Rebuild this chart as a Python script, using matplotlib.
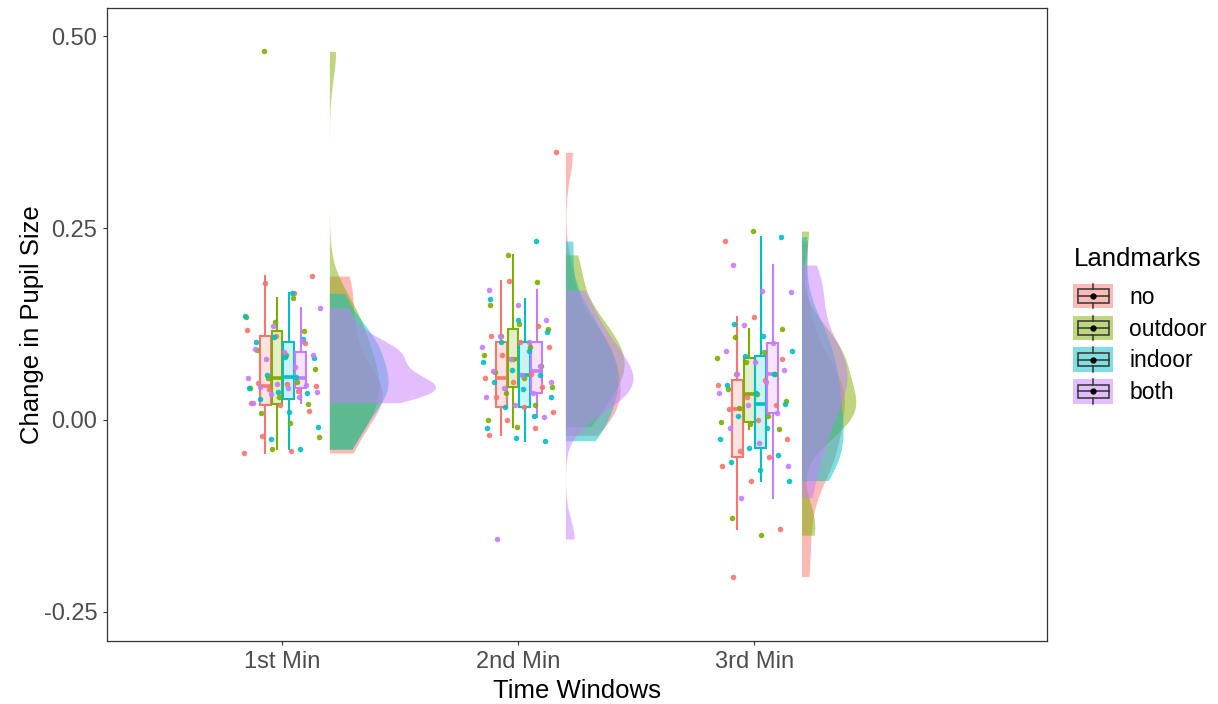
import numpy as np
import matplotlib
matplotlib.use('Agg')
import matplotlib.pyplot as plt
from matplotlib.colors import to_rgba
from matplotlib.patches import Patch, Rectangle
from matplotlib.lines import Line2D
from matplotlib.legend_handler import HandlerBase

plt.rcParams['font.family'] = ['Liberation Sans', 'DejaVu Sans']

windows = ['1st Min', '2nd Min', '3rd Min']
landmarks = ['no', 'outdoor', 'indoor', 'both']
colors = ['#F8766D', '#7CAE00', '#00BFC4', '#C77CFF']

# change in pupil size per participant
no_1 = [-0.043, -0.040, -0.021, 0.012, 0.0195, 0.0225, 0.038, 0.040, 0.044,
        0.047, 0.0486, 0.100, 0.110, 0.117, 0.166, 0.179, 0.1875]
outdoor_1 = [-0.038, -0.022, -0.0035, 0.0095, 0.021, 0.030, 0.0417, 0.050, 0.055,
             0.066, 0.084, 0.091, 0.116, 0.128, 0.134, 0.159, 0.480]
indoor_1 = [-0.038, -0.025, -0.0087, 0.011, 0.027, 0.035, 0.037, 0.042, 0.056,
            0.0585, 0.081, 0.082, 0.1016, 0.106, 0.108, 0.135, 0.165]
both_1 = [0.0225, 0.030, 0.034, 0.037, 0.042, 0.043, 0.045, 0.047, 0.055,
          0.069, 0.080, 0.085, 0.0885, 0.092, 0.103, 0.122, 0.146]

no_2 = [-0.020, -0.010, 0.000, 0.010, 0.0174, 0.030, 0.043, 0.050, 0.055,
        0.060, 0.085, 0.095, 0.1016, 0.110, 0.122, 0.181, 0.3485]
outdoor_2 = [-0.0087, 0.000, 0.020, 0.035, 0.0434, 0.055, 0.062, 0.070, 0.080,
             0.085, 0.095, 0.110, 0.119, 0.125, 0.150, 0.180, 0.215]
indoor_2 = [-0.027, -0.0236, -0.010, 0.005, 0.017, 0.030, 0.040, 0.050, 0.0586,
            0.065, 0.075, 0.090, 0.1016, 0.115, 0.130, 0.1576, 0.233]
both_2 = [-0.155, 0.0043, 0.020, 0.030, 0.035, 0.042, 0.050, 0.058, 0.0638,
          0.070, 0.080, 0.095, 0.102, 0.110, 0.130, 0.150, 0.169]

no_3 = [-0.204, -0.142, -0.080, -0.060, -0.0486, -0.040, -0.025, 0.000, 0.0143,
        0.020, 0.030, 0.045, 0.052, 0.060, 0.080, 0.134, 0.233]
outdoor_3 = [-0.150, -0.128, -0.0117, -0.005, -0.002, 0.005, 0.015, 0.025, 0.034,
             0.040, 0.060, 0.075, 0.081, 0.088, 0.1077, 0.118, 0.246]
indoor_3 = [-0.079, -0.065, -0.055, -0.045, -0.036, -0.025, -0.010, 0.005, 0.0208,
            0.035, 0.045, 0.060, 0.083, 0.090, 0.110, 0.125, 0.2387]
both_3 = [-0.101, -0.060, -0.030, -0.010, 0.0096, 0.020, 0.035, 0.050, 0.060,
          0.065, 0.075, 0.090, 0.0998, 0.124, 0.167, 0.168, 0.2018]

pupil = [[no_1, outdoor_1, indoor_1, both_1],
         [no_2, outdoor_2, indoor_2, both_2],
         [no_3, outdoor_3, indoor_3, both_3]]


def kde(vals, n=512):
    # gaussian kernel, bw.nrd0, trimmed to the data range (like ggplot)
    v = np.asarray(vals)
    iqr = np.subtract(*np.percentile(v, [75, 25]))
    lo = min(v.std(ddof=1), iqr / 1.34)
    bw = 0.9 * lo * len(v) ** -0.2
    grid = np.linspace(v.min(), v.max(), n)
    z = (grid[:, None] - v[None, :]) / bw
    dens = np.exp(-0.5 * z ** 2).sum(axis=1) / (len(v) * bw * np.sqrt(2 * np.pi))
    return grid, dens


class BoxKey(HandlerBase):
    def create_artists(self, legend, orig_handle, xdescent, ydescent,
                       width, height, fontsize, trans):
        c = orig_handle.get_facecolor()
        x0, y0 = -xdescent, -ydescent
        bg = Rectangle((x0, y0), width, height, facecolor=c[:3], alpha=0.5,
                       edgecolor='none', transform=trans)
        box = Rectangle((x0 + 0.12 * width, y0 + 0.22 * height), 0.76 * width,
                        0.56 * height, fill=False, edgecolor='#333333', lw=1.1,
                        transform=trans)
        xm, ym = x0 + width / 2, y0 + height / 2
        med = Line2D([x0 + 0.12 * width, x0 + 0.88 * width], [ym, ym],
                     color='#333333', lw=1.1, transform=trans)
        wk1 = Line2D([xm, xm], [y0, y0 + 0.22 * height], color='#333333', lw=1.1, transform=trans)
        wk2 = Line2D([xm, xm], [y0 + 0.78 * height, y0 + height], color='#333333', lw=1.1, transform=trans)
        dot = Line2D([xm], [ym], marker='o', ms=3.5, color='black', transform=trans)
        return [bg, box, med, wk1, wk2, dot]


fig = plt.figure(figsize=(12.18, 7.04), dpi=100)
ax = fig.add_axes([107 / 1218, 63 / 704, 940 / 1218, 633 / 704])

dodge = [-0.072, -0.022, 0.028, 0.078]
all_d = [kde(v)[1].max() for row in pupil for v in row]
scale = 0.45 / max(all_d)

for i, w in enumerate(windows):
    xc = i + 1
    for j, lab in enumerate(landmarks):
        vals = np.array(pupil[i][j])
        grid, dens = kde(vals)
        ax.fill_betweenx(grid, xc + 0.2, xc + 0.2 + dens * scale,
                         color=colors[j], alpha=0.5, lw=0, zorder=1)
    for j, lab in enumerate(landmarks):
        vals = np.array(pupil[i][j])
        c = colors[j]
        ax.boxplot(vals, positions=[xc + dodge[j]], widths=0.046,
                   patch_artist=True, showfliers=False, showcaps=False,
                   manage_ticks=False,
                   boxprops=dict(facecolor=to_rgba(c, 0.2), edgecolor=c, lw=1.5),
                   whiskerprops=dict(color=c, lw=1.5),
                   medianprops=dict(color=c, lw=2.6),
                   zorder=2)
    for j, lab in enumerate(landmarks):
        vals = np.array(pupil[i][j])
        k = np.arange(len(vals))
        jit = ((k * 0.618034 + 0.37 * j + 0.11 * i) % 1 - 0.5) * 0.32
        ax.scatter(xc + jit, vals, s=16, color=colors[j], alpha=0.9,
                   lw=0, zorder=3)

ax.set_xlim(0.258, 4.24)
ax.set_ylim(-0.2878, 0.5365)
ax.set_xticks([1, 2, 3], windows)
ax.set_yticks([-0.25, 0, 0.25, 0.5], ['-0.25', '0.00', '0.25', '0.50'])
ax.tick_params(length=3, width=0.8, color='#333333', labelcolor='#4D4D4D',
               labelsize=17, pad=4)
for s in ax.spines.values():
    s.set_color('#333333')
    s.set_linewidth(0.9)

ax.set_xlabel('Time Windows', fontsize=18.5)
ax.set_ylabel('Change in Pupil Size', fontsize=18.5)
ax.xaxis.set_label_coords(0.5, -0.06)
ax.yaxis.set_label_coords(-0.067, 0.5)

handles = [Patch(facecolor=c) for c in colors]
leg = fig.legend(handles, landmarks, handler_map={Patch: BoxKey()},
                 loc='center left', bbox_to_anchor=(1062 / 1218, 0.5377),
                 frameon=False, fontsize=16.5, title='Landmarks',
                 title_fontsize=18.5, handlelength=1.74, handleheight=1.26,
                 labelspacing=0.3, handletextpad=0.7, borderpad=0,
                 alignment='left')
# a little more room between the title and the keys
leg._legend_box.sep = 0.3 * 16.5 + 4.5

fig.savefig('out.png', dpi=100)
